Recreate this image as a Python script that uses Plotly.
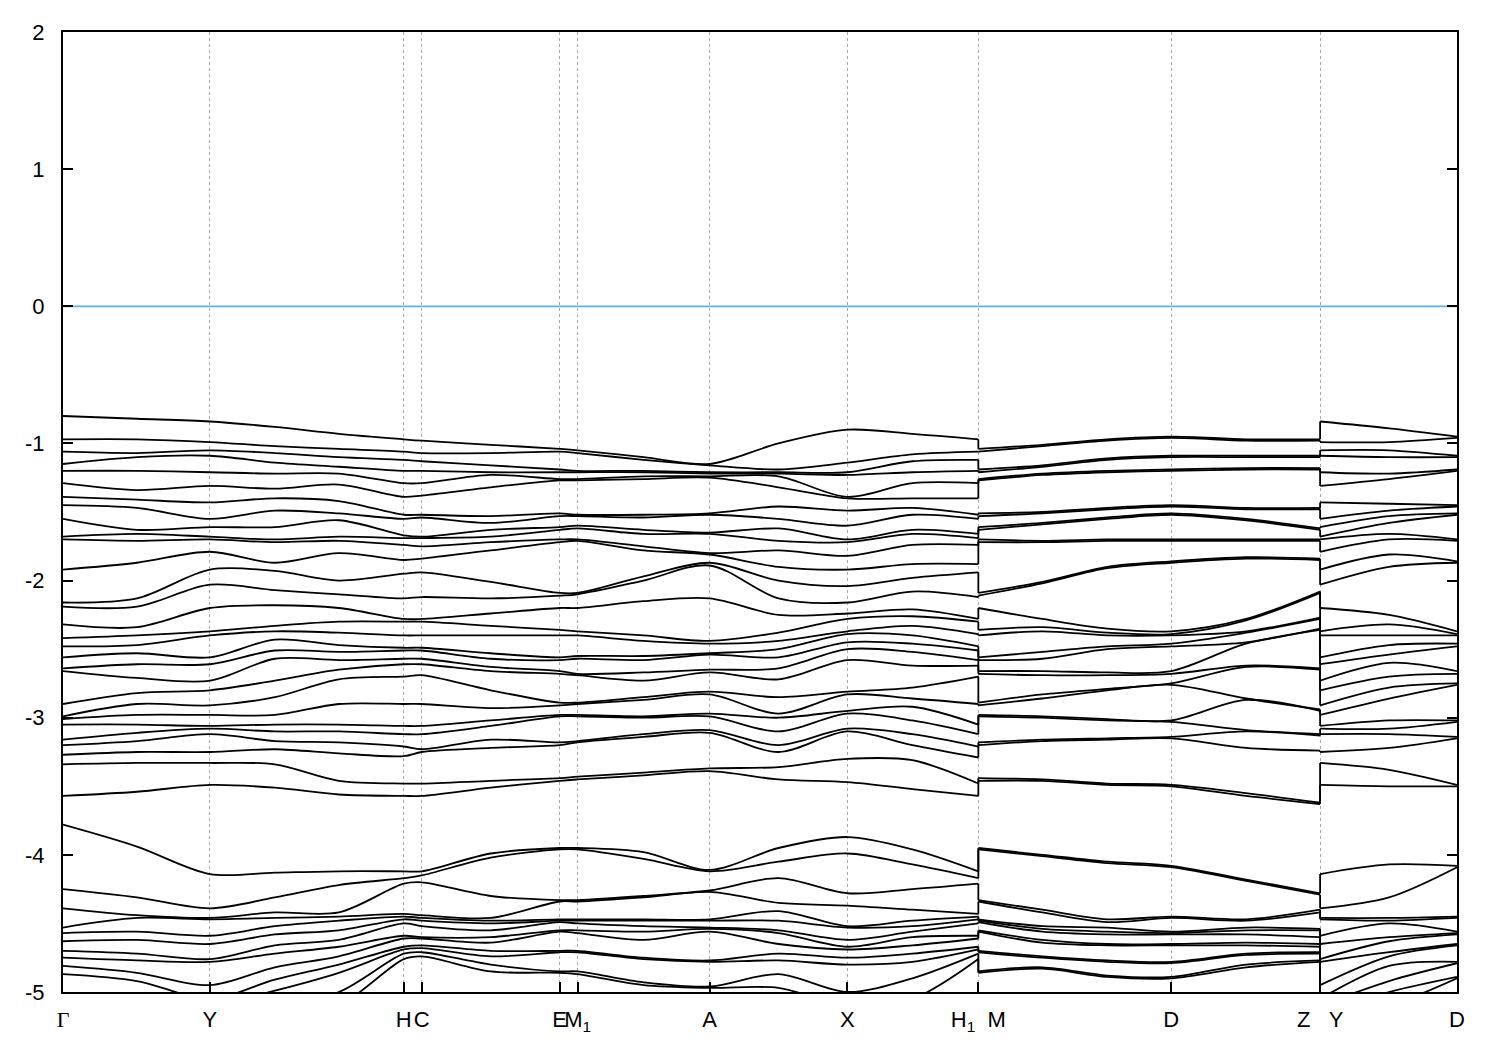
import plotly.graph_objects as go

# ---- k-path (path length) -------------------------------------------------
tick_pos = [0.000, 0.147, 0.341, 0.359, 0.497, 0.515, 0.647, 0.785, 0.916, 1.109, 1.258, 1.395]
tick_text = ['<span style="font-family:Liberation Serif, DejaVu Serif, serif">Γ</span>',
             "Y", "H", "C", "E", "M<sub>1</sub>", "A", "X",
             "H<sub>1</sub>\u00a0\u00a0M", "D", "Z\u00a0\u00a0\u00a0Y", "D"]

# sampled k positions (two entries at the H1|M and Z|Y discontinuities)
k_cols = [0.000, 0.074, 0.147, 0.212, 0.276, 0.341, 0.359, 0.428, 0.497, 0.515,
          0.581, 0.647, 0.716, 0.785, 0.850, 0.916, 0.916, 0.980, 1.045, 1.109,
          1.184, 1.258, 1.258, 1.327, 1.395]

# ---- upper valence manifold: energies (eV) of the 29 bands at each sampled k
upper_cols = [
    [-0.80, -0.97, -1.06, -1.15, -1.20, -1.29, -1.39, -1.45, -1.55, -1.68, -1.70, -1.92, -2.16, -2.19, -2.32, -2.42, -2.48, -2.56, -2.64, -2.66, -2.90, -2.99, -3.01, -3.05, -3.16, -3.20, -3.27, -3.34, -3.57],  # Γ
    [-0.82, -0.97, -1.07, -1.10, -1.20, -1.34, -1.41, -1.47, -1.63, -1.66, -1.71, -1.87, -2.13, -2.19, -2.34, -2.40, -2.47, -2.53, -2.61, -2.71, -2.82, -2.90, -2.98, -3.05, -3.11, -3.17, -3.25, -3.33, -3.54],
    [-0.84, -0.99, -1.05, -1.09, -1.21, -1.31, -1.43, -1.55, -1.61, -1.68, -1.70, -1.79, -1.92, -2.03, -2.20, -2.37, -2.40, -2.56, -2.61, -2.73, -2.80, -2.91, -2.98, -3.06, -3.08, -3.12, -3.25, -3.33, -3.49],  # Y
    [-0.88, -1.02, -1.07, -1.14, -1.22, -1.33, -1.40, -1.49, -1.61, -1.70, -1.72, -1.87, -1.93, -2.07, -2.18, -2.33, -2.37, -2.43, -2.51, -2.57, -2.73, -2.85, -2.98, -3.05, -3.10, -3.17, -3.23, -3.34, -3.51],
    [-0.93, -1.04, -1.10, -1.17, -1.22, -1.30, -1.42, -1.51, -1.56, -1.68, -1.71, -1.80, -2.00, -2.10, -2.20, -2.30, -2.38, -2.47, -2.52, -2.58, -2.65, -2.72, -2.90, -3.05, -3.10, -3.18, -3.26, -3.46, -3.56],
    [-0.97, -1.06, -1.12, -1.20, -1.29, -1.39, -1.52, -1.55, -1.67, -1.69, -1.74, -1.85, -1.95, -2.13, -2.28, -2.30, -2.40, -2.49, -2.51, -2.57, -2.61, -2.70, -2.90, -3.06, -3.12, -3.21, -3.28, -3.48, -3.57],  # H
    [-0.98, -1.07, -1.13, -1.20, -1.29, -1.38, -1.52, -1.54, -1.68, -1.69, -1.75, -1.84, -1.94, -2.12, -2.28, -2.30, -2.40, -2.49, -2.51, -2.57, -2.61, -2.69, -2.90, -3.06, -3.12, -3.23, -3.25, -3.48, -3.57],  # C
    [-1.01, -1.07, -1.16, -1.21, -1.23, -1.32, -1.53, -1.58, -1.63, -1.68, -1.72, -1.78, -2.01, -2.13, -2.24, -2.33, -2.40, -2.53, -2.57, -2.63, -2.66, -2.80, -2.93, -3.02, -3.06, -3.16, -3.22, -3.46, -3.51],
    [-1.04, -1.06, -1.19, -1.21, -1.26, -1.27, -1.51, -1.53, -1.61, -1.63, -1.70, -1.72, -2.09, -2.11, -2.20, -2.36, -2.40, -2.56, -2.58, -2.66, -2.68, -2.89, -2.91, -2.98, -2.99, -3.18, -3.20, -3.44, -3.46],  # E
    [-1.05, -1.07, -1.20, -1.21, -1.26, -1.27, -1.52, -1.53, -1.60, -1.62, -1.70, -1.71, -2.09, -2.10, -2.20, -2.37, -2.40, -2.55, -2.57, -2.68, -2.69, -2.89, -2.90, -2.98, -2.99, -3.17, -3.18, -3.43, -3.45],  # M1
    [-1.10, -1.12, -1.20, -1.21, -1.24, -1.26, -1.52, -1.54, -1.63, -1.66, -1.75, -1.78, -1.97, -2.00, -2.15, -2.40, -2.44, -2.55, -2.58, -2.67, -2.73, -2.85, -2.87, -2.99, -3.00, -3.12, -3.14, -3.40, -3.42],
    [-1.15, -1.16, -1.21, -1.22, -1.24, -1.25, -1.51, -1.52, -1.65, -1.66, -1.80, -1.81, -1.87, -1.89, -2.13, -2.44, -2.46, -2.53, -2.54, -2.65, -2.67, -2.81, -2.83, -2.97, -2.99, -3.09, -3.11, -3.37, -3.39],  # A
    [-1.00, -1.19, -1.21, -1.22, -1.24, -1.32, -1.46, -1.55, -1.62, -1.71, -1.78, -1.90, -2.00, -2.13, -2.25, -2.38, -2.44, -2.50, -2.56, -2.64, -2.72, -2.85, -2.97, -3.00, -3.10, -3.20, -3.25, -3.36, -3.45],
    [-0.90, -1.14, -1.21, -1.23, -1.39, -1.40, -1.49, -1.60, -1.70, -1.72, -1.82, -1.92, -2.04, -2.16, -2.24, -2.28, -2.37, -2.39, -2.45, -2.50, -2.58, -2.81, -2.83, -2.95, -2.97, -3.08, -3.10, -3.30, -3.47],  # X
    [-0.93, -1.08, -1.13, -1.21, -1.29, -1.40, -1.47, -1.52, -1.63, -1.66, -1.74, -1.88, -1.98, -2.08, -2.21, -2.26, -2.33, -2.40, -2.46, -2.52, -2.62, -2.78, -2.86, -2.92, -3.02, -3.12, -3.20, -3.31, -3.52],
    [-0.97, -1.06, -1.12, -1.20, -1.29, -1.40, -1.52, -1.55, -1.66, -1.69, -1.74, -1.88, -1.94, -2.12, -2.28, -2.30, -2.39, -2.48, -2.51, -2.58, -2.62, -2.70, -2.90, -3.05, -3.12, -3.21, -3.29, -3.48, -3.57],  # H1
    [-1.04, -1.06, -1.19, -1.21, -1.26, -1.27, -1.51, -1.53, -1.61, -1.63, -1.70, -1.72, -2.09, -2.11, -2.20, -2.36, -2.40, -2.56, -2.58, -2.66, -2.68, -2.89, -2.91, -2.98, -2.99, -3.18, -3.20, -3.44, -3.46],  # M
    [-1.01, -1.02, -1.16, -1.17, -1.22, -1.23, -1.50, -1.51, -1.58, -1.59, -1.71, -1.72, -2.01, -2.02, -2.28, -2.34, -2.37, -2.52, -2.57, -2.66, -2.69, -2.83, -2.86, -2.99, -3.00, -3.16, -3.17, -3.45, -3.46],
    [-0.97, -0.98, -1.11, -1.12, -1.20, -1.21, -1.47, -1.48, -1.54, -1.55, -1.70, -1.71, -1.90, -1.91, -2.35, -2.38, -2.40, -2.48, -2.50, -2.67, -2.69, -2.79, -2.80, -3.01, -3.02, -3.15, -3.16, -3.48, -3.49],
    [-0.95, -0.96, -1.09, -1.10, -1.19, -1.20, -1.45, -1.46, -1.51, -1.52, -1.70, -1.71, -1.86, -1.87, -2.37, -2.39, -2.40, -2.46, -2.48, -2.66, -2.68, -2.75, -2.76, -3.02, -3.03, -3.14, -3.15, -3.49, -3.50],  # D
    [-0.97, -0.98, -1.09, -1.10, -1.18, -1.19, -1.47, -1.48, -1.55, -1.56, -1.70, -1.71, -1.83, -1.84, -2.28, -2.29, -2.37, -2.38, -2.45, -2.46, -2.62, -2.63, -2.86, -2.87, -3.09, -3.10, -3.22, -3.55, -3.57],
    [-0.97, -0.98, -1.09, -1.10, -1.18, -1.19, -1.47, -1.48, -1.62, -1.63, -1.70, -1.71, -1.84, -1.85, -2.08, -2.09, -2.27, -2.28, -2.35, -2.36, -2.64, -2.65, -2.94, -2.95, -3.12, -3.13, -3.24, -3.62, -3.63],  # Z
    [-0.84, -0.99, -1.05, -1.09, -1.21, -1.31, -1.43, -1.55, -1.61, -1.68, -1.70, -1.79, -1.92, -2.03, -2.20, -2.37, -2.40, -2.56, -2.61, -2.73, -2.80, -2.91, -2.98, -3.06, -3.08, -3.12, -3.25, -3.33, -3.49],  # Y
    [-0.89, -0.99, -1.05, -1.10, -1.22, -1.26, -1.44, -1.49, -1.53, -1.58, -1.66, -1.70, -1.81, -1.90, -2.25, -2.32, -2.40, -2.47, -2.54, -2.60, -2.70, -2.78, -2.86, -3.02, -3.08, -3.12, -3.22, -3.38, -3.50],
    [-0.95, -0.96, -1.09, -1.10, -1.19, -1.20, -1.45, -1.46, -1.51, -1.52, -1.70, -1.71, -1.86, -1.87, -2.37, -2.39, -2.40, -2.46, -2.48, -2.66, -2.68, -2.75, -2.76, -3.02, -3.03, -3.14, -3.15, -3.49, -3.50],  # D
]

# ---- lower manifold: energies (eV) of 14 bands at each sampled k
lower_cols = [
    [-3.78, -4.25, -4.39, -4.53, -4.57, -4.63, -4.70, -4.75, -4.81, -4.87, -5.05, -5.10, -5.20, -5.30],  # Γ
    [-3.94, -4.31, -4.44, -4.46, -4.56, -4.62, -4.72, -4.77, -4.86, -4.92, -5.05, -5.10, -5.20, -5.30],
    [-4.14, -4.39, -4.46, -4.47, -4.59, -4.65, -4.76, -4.78, -4.95, -5.05, -5.10, -5.15, -5.20, -5.30],  # Y
    [-4.13, -4.31, -4.42, -4.46, -4.52, -4.58, -4.66, -4.72, -4.82, -4.91, -4.99, -5.10, -5.20, -5.30],
    [-4.12, -4.22, -4.42, -4.45, -4.48, -4.55, -4.62, -4.67, -4.74, -4.80, -4.86, -5.00, -5.10, -5.30],
    [-4.12, -4.17, -4.21, -4.43, -4.45, -4.47, -4.50, -4.59, -4.61, -4.67, -4.69, -4.72, -4.76, -5.20],  # H
    [-4.12, -4.15, -4.20, -4.44, -4.46, -4.48, -4.52, -4.60, -4.61, -4.66, -4.68, -4.71, -4.74, -5.20],  # C
    [-3.99, -4.02, -4.30, -4.46, -4.48, -4.50, -4.55, -4.60, -4.64, -4.70, -4.74, -4.80, -4.85, -5.20],
    [-3.95, -3.96, -4.33, -4.34, -4.47, -4.48, -4.49, -4.55, -4.56, -4.70, -4.71, -4.85, -4.86, -5.20],  # E
    [-3.95, -3.96, -4.33, -4.34, -4.47, -4.48, -4.50, -4.55, -4.57, -4.70, -4.71, -4.85, -4.87, -5.20],  # M1
    [-3.98, -4.03, -4.30, -4.31, -4.47, -4.48, -4.52, -4.56, -4.62, -4.75, -4.76, -4.93, -4.95, -5.20],
    [-4.11, -4.12, -4.26, -4.27, -4.47, -4.48, -4.53, -4.54, -4.56, -4.77, -4.78, -4.96, -4.97, -5.20],  # A
    [-3.95, -4.05, -4.17, -4.35, -4.41, -4.48, -4.55, -4.57, -4.65, -4.72, -4.77, -4.87, -4.97, -5.20],
    [-3.87, -3.99, -4.28, -4.37, -4.52, -4.53, -4.62, -4.67, -4.69, -4.75, -4.80, -5.00, -5.10, -5.20],  # X
    [-3.96, -4.07, -4.25, -4.40, -4.48, -4.52, -4.56, -4.60, -4.66, -4.72, -4.78, -4.90, -5.05, -5.20],
    [-4.12, -4.17, -4.21, -4.43, -4.45, -4.47, -4.50, -4.59, -4.61, -4.67, -4.69, -4.72, -4.76, -5.20],  # H1
    [-3.95, -3.96, -4.33, -4.34, -4.47, -4.48, -4.49, -4.55, -4.56, -4.70, -4.71, -4.85, -4.86, -5.20],  # M
    [-4.00, -4.01, -4.40, -4.42, -4.52, -4.54, -4.56, -4.62, -4.64, -4.74, -4.75, -4.82, -4.83, -5.20],
    [-4.05, -4.06, -4.47, -4.49, -4.53, -4.56, -4.58, -4.65, -4.66, -4.77, -4.78, -4.88, -4.89, -5.20],
    [-4.08, -4.09, -4.45, -4.46, -4.56, -4.57, -4.58, -4.65, -4.66, -4.78, -4.79, -4.89, -4.90, -5.20],  # D
    [-4.18, -4.19, -4.47, -4.48, -4.53, -4.55, -4.58, -4.64, -4.66, -4.72, -4.73, -4.80, -4.82, -5.20],
    [-4.28, -4.29, -4.40, -4.42, -4.54, -4.55, -4.60, -4.65, -4.67, -4.71, -4.72, -4.77, -4.78, -5.20],  # Z
    [-4.14, -4.39, -4.46, -4.47, -4.59, -4.65, -4.76, -4.78, -4.95, -5.05, -5.10, -5.15, -5.20, -5.30],  # Y
    [-4.07, -4.31, -4.46, -4.48, -4.50, -4.60, -4.63, -4.71, -4.74, -4.81, -4.92, -5.00, -5.10, -5.20],
    [-4.08, -4.09, -4.45, -4.46, -4.56, -4.57, -4.58, -4.65, -4.66, -4.78, -4.79, -4.89, -4.90, -5.20],  # D
]

y_ticks = [-5, -4, -3, -2, -1, 0, 1, 2]
y_tick_text = ["-5", "-4", "-3", "-2", "-1", "0", "1", "2"]
fermi_level = 0.0

# ---- build band lines -------------------------------------------------------
n_up = len(upper_cols[0])
n_lo = len(lower_cols[0])
assert all(len(c) == n_up for c in upper_cols), [len(c) for c in upper_cols]
assert all(len(c) == n_lo for c in lower_cols), [len(c) for c in lower_cols]
assert len(upper_cols) == len(k_cols) == len(lower_cols)

bands = [[col[i] for col in upper_cols] for i in range(n_up)] + \
        [[col[i] for col in lower_cols] for i in range(n_lo)]

pieces = [(0, 15), (16, 21), (22, 24)]   # continuous stretches of the path
jumps = [(15, 16), (21, 22)]             # H1|M and Z|Y discontinuities

sx, sy, jx, jy = [], [], [], []
for band in bands:
    for a, b in pieces:
        sx += k_cols[a:b + 1] + [None]
        sy += band[a:b + 1] + [None]
    for a, b in jumps:
        jx += [k_cols[a], k_cols[b], None]
        jy += [band[a], band[b], None]

fig = go.Figure()
fig.add_trace(go.Scatter(x=[tick_pos[0], tick_pos[-1]], y=[fermi_level, fermi_level],
                         mode="lines", line=dict(color="#56b4e9", width=1.8),
                         hoverinfo="skip"))
fig.add_trace(go.Scatter(x=sx, y=sy, mode="lines",
                         line=dict(color="black", width=1.8, shape="spline", smoothing=0.9),
                         connectgaps=False, hoverinfo="skip"))
fig.add_trace(go.Scatter(x=jx, y=jy, mode="lines",
                         line=dict(color="black", width=1.8),
                         connectgaps=False, hoverinfo="skip"))

font_family = "Liberation Sans, Arial, Helvetica, sans-serif"
fig.update_layout(
    width=1500, height=1050,
    margin=dict(l=55, r=51, t=20, b=66),
    plot_bgcolor="white", paper_bgcolor="white",
    showlegend=False,
    font=dict(family=font_family, size=22, color="black"),
)
fig.update_xaxes(
    range=[tick_pos[0], tick_pos[-1]],
    tickmode="array", tickvals=tick_pos, ticktext=tick_text, tickangle=0,
    ticks="inside", ticklen=10, tickwidth=1.5, tickcolor="black",
    showline=True, linecolor="black", linewidth=2, mirror=True,
    showgrid=True, gridcolor="#a9a9a9", gridwidth=1, griddash="3px,3px",
    zeroline=False, ticklabelstandoff=7,
)
fig.update_yaxes(
    range=[-5, 2],
    tickmode="array", tickvals=y_ticks, ticktext=y_tick_text,
    ticks="inside", ticklen=10, tickwidth=1.5, tickcolor="black",
    showline=True, linecolor="black", linewidth=2, mirror="ticks",
    showgrid=False, zeroline=False, ticklabelstandoff=12,
)

fig.write_html("out.html")
